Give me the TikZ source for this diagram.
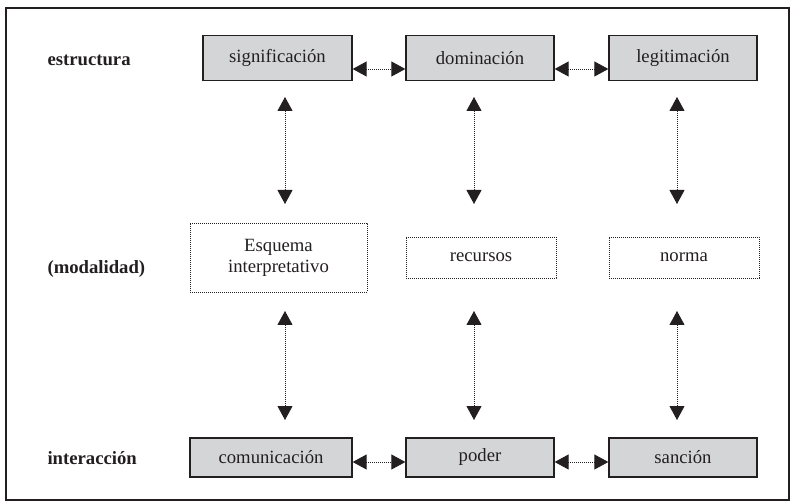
\documentclass[tikz,border=0pt]{standalone}
\usepackage{fontspec}
\setmainfont{Liberation Serif}
\usetikzlibrary{arrows.meta}
\definecolor{boxgray}{RGB}{212,213,215}
\definecolor{ink}{RGB}{35,31,32}
\begin{document}
\begin{tikzpicture}[x=1pt,y=-1pt,
  txt/.style={font=\fontsize{18.7}{21}\selectfont, text=ink},
  solidbox/.style={txt, draw=ink, line width=1.3pt, fill=boxgray, inner sep=0pt, anchor=center},
  dotbox/.style={txt, draw=ink, line width=0.8pt, dash pattern=on 0.8pt off 1.2pt, inner sep=0pt, anchor=center, align=center},
  lbl/.style={txt, font=\fontsize{18.7}{21}\selectfont\bfseries, anchor=west},
  arr/.style={draw=ink, line width=0.9pt, dash pattern=on 0.9pt off 1.1pt, {Triangle[length=14pt,width=15pt]}-{Triangle[length=14pt,width=15pt]}}
]
\useasboundingbox (0,0) rectangle (792,502);
\draw[ink, line width=1.8pt] (6,8) rectangle (789,500);

\node[lbl] (l1) at (44,60) {estructura};
\node[lbl] (l2) at (44,269) {(modalidad)};
\node[lbl] (l3) at (44,458) {interacción};

\node[solidbox, minimum width=149pt, minimum height=45pt] (sig) at (277.5,58) {significación};
\node[solidbox, minimum width=148pt, minimum height=45pt] (dom) at (480,58) {dominación};
\node[solidbox, minimum width=148pt, minimum height=45pt] (leg) at (683,58) {legitimación};

\node[dotbox, minimum width=177pt, minimum height=69pt] (esq) at (278.5,257.5) {Esquema\\interpretativo};
\node[dotbox, minimum width=150pt, minimum height=41pt] (rec) at (481,257.5) {recursos};
\node[dotbox, minimum width=150pt, minimum height=41pt] (nor) at (684,257.5) {norma};

\node[solidbox, minimum width=162pt, minimum height=39pt] (com) at (271,457.5) {comunicación};
\node[solidbox, minimum width=148pt, minimum height=39pt] (pod) at (480,457.5) {poder};
\node[solidbox, minimum width=148pt, minimum height=39pt] (san) at (683,457.5) {sanción};

% horizontal arrows
\coordinate (h1) at (0,69);
\coordinate (h3) at (0,462);
\draw[arr] (sig.east |- h1) -- (dom.west |- h1);
\draw[arr] (dom.east |- h1) -- (leg.west |- h1);
\draw[arr] (com.east |- h3) -- (pod.west |- h3);
\draw[arr] (pod.east |- h3) -- (san.west |- h3);

% vertical arrows
\coordinate (u1t) at (285,97);  \coordinate (u1b) at (285,204);
\coordinate (u2t) at (474,97);  \coordinate (u2b) at (474,204);
\coordinate (u3t) at (677,97);  \coordinate (u3b) at (677,204);
\coordinate (d1t) at (285,311); \coordinate (d1b) at (285,420);
\coordinate (d2t) at (474,311); \coordinate (d2b) at (474,420);
\coordinate (d3t) at (677,311); \coordinate (d3b) at (677,420);
\draw[arr] (u1t) -- (u1b);
\draw[arr] (u2t) -- (u2b);
\draw[arr] (u3t) -- (u3b);
\draw[arr] (d1t) -- (d1b);
\draw[arr] (d2t) -- (d2b);
\draw[arr] (d3t) -- (d3b);
\end{tikzpicture}
\end{document}
